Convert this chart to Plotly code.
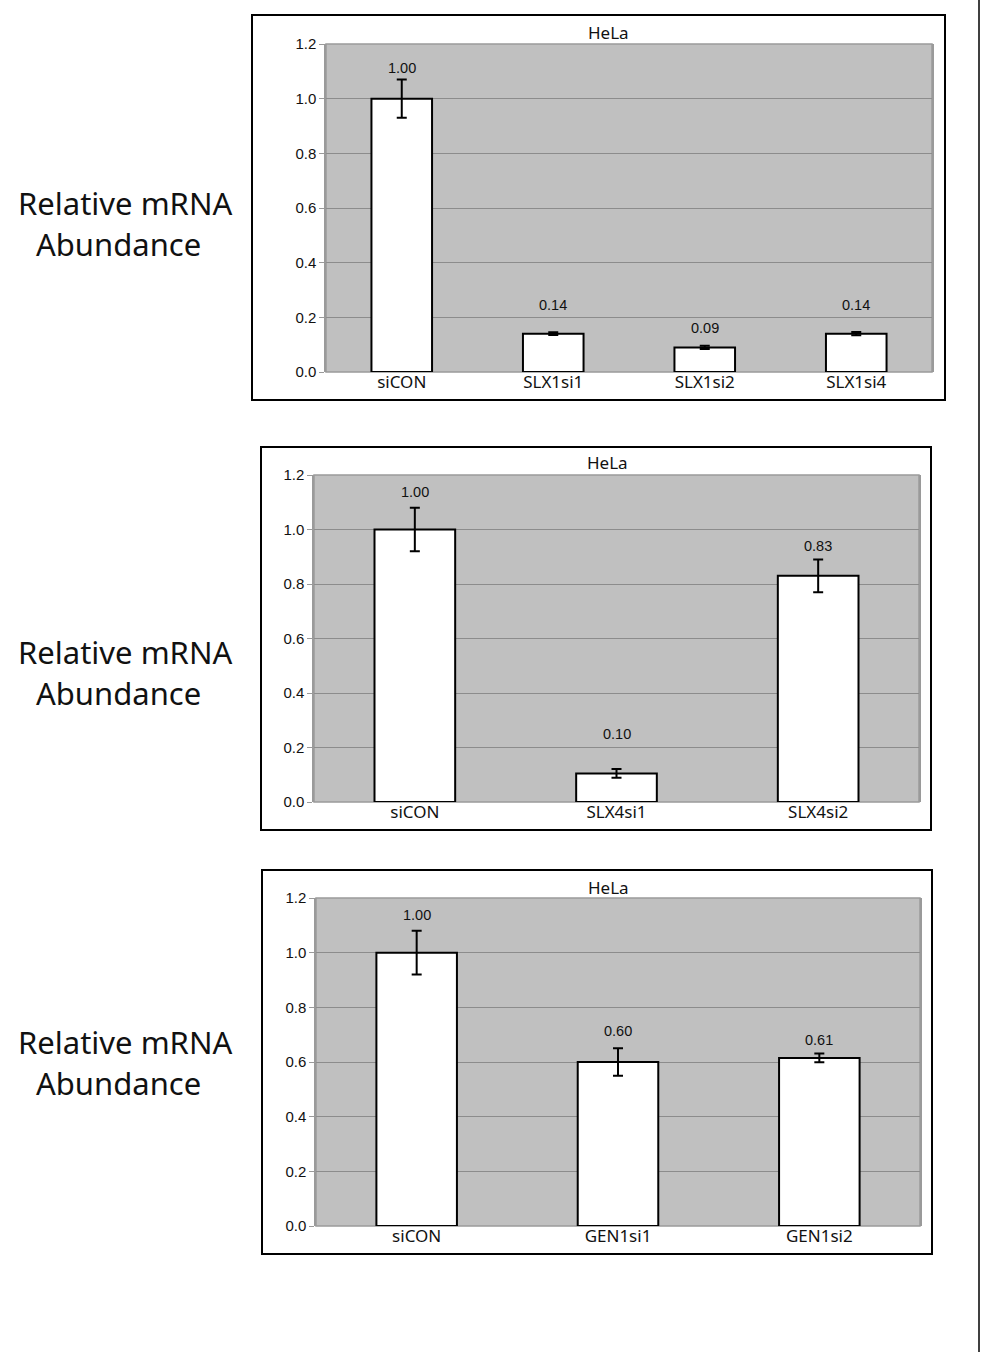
import plotly.graph_objects as go

# ---------------- data ----------------
p1_categories = ["siCON", "SLX1si1", "SLX1si2", "SLX1si4"]
p1_values = [1.00, 0.14, 0.09, 0.14]
p1_errors = [0.07, 0.005, 0.006, 0.006]
p1_labels = ["1.00", "0.14", "0.09", "0.14"]

p2_categories = ["siCON", "SLX4si1", "SLX4si2"]
p2_values = [1.00, 0.105, 0.83]
p2_errors = [0.08, 0.016, 0.06]
p2_labels = ["1.00", "0.10", "0.83"]

p3_categories = ["siCON", "GEN1si1", "GEN1si2"]
p3_values = [1.00, 0.60, 0.615]
p3_errors = [0.08, 0.05, 0.016]
p3_labels = ["1.00", "0.60", "0.61"]

panel_title = "HeLa"
y_title_line1 = "Relative mRNA"
y_title_line2 = "Abundance"
y_ticks = [0.0, 0.2, 0.4, 0.6, 0.8, 1.0, 1.2]

# ---------------- layout (pixels) ----------------
W, H = 981, 1352
panels = [
    dict(cats=p1_categories, vals=p1_values, errs=p1_errors, labels=p1_labels,
         plot=(326, 932, 44, 372), frame=(252, 945, 15, 400), title_xy=(608, 32),
         ytitle_y=(203, 244), shifts=[31, 29, 19, 29]),
    dict(cats=p2_categories, vals=p2_values, errs=p2_errors, labels=p2_labels,
         plot=(314, 919, 475, 802), frame=(261, 931, 447, 830), title_xy=(607, 462),
         ytitle_y=(652, 693), shifts=[38, 39, 30]),
    dict(cats=p3_categories, vals=p3_values, errs=p3_errors, labels=p3_labels,
         plot=(316, 920, 898, 1226), frame=(262, 932, 870, 1254), title_xy=(608, 887),
         ytitle_y=(1042, 1083), shifts=[38, 31, 18]),
]
XLABEL_LIFT = 2  # px: category labels sit closer to the plot bottom

def px(x):
    return x / W

def py(y):
    return 1 - y / H

fig = go.Figure()
annotations = []
shapes = []
layout_axes = {}

for i, p in enumerate(panels):
    n = i + 1
    xa = "x" if n == 1 else f"x{n}"
    ya = "y" if n == 1 else f"y{n}"
    x0, x1, y0, y1 = p["plot"]
    fig.add_trace(go.Bar(
        x=p["cats"], y=p["vals"], xaxis=xa, yaxis=ya,
        width=0.4,
        marker=dict(color="white", line=dict(color="black", width=2)),
        error_y=dict(type="data", array=p["errs"], visible=True,
                     color="black", thickness=2, width=5),
        showlegend=False, hoverinfo="skip",
    ))
    key = "" if n == 1 else str(n)
    layout_axes["xaxis" + key] = dict(
        domain=[px(x0), px(x1)], anchor="free", position=py(y1 - XLABEL_LIFT),
        type="category",
        showgrid=False, showline=False,
        ticks="", ticklen=0, zeroline=False, automargin=False,
        tickfont=dict(family="Noto Sans", size=17, color="#111111"),
        fixedrange=True,
    )
    layout_axes["yaxis" + key] = dict(
        domain=[py(y1), py(y0)], anchor=xa, range=[0, 1.2],
        tickvals=y_ticks, tickformat=".1f", automargin=False,
        showgrid=True, gridcolor="#8c8c8c", gridwidth=1,
        showline=True, linecolor="#9a9a9a", linewidth=1.5, mirror=True,
        ticks="outside", ticklen=5, tickcolor="#9a9a9a",
        zeroline=False,
        tickfont=dict(family="Liberation Sans", size=15, color="#111111"),
        fixedrange=True,
    )
    # plot background + border
    shapes.append(dict(type="rect", xref="paper", yref="paper",
                       x0=px(x0), x1=px(x1), y0=py(y1), y1=py(y0),
                       fillcolor="#c0c0c0", line=dict(color="#9a9a9a", width=1.5),
                       layer="below"))
    # frame
    fx0, fx1, fy0, fy1 = p["frame"]
    shapes.append(dict(type="rect", xref="paper", yref="paper",
                       x0=px(fx0), x1=px(fx1), y0=py(fy1), y1=py(fy0),
                       line=dict(color="black", width=2), fillcolor="rgba(0,0,0,0)"))
    # title
    tx, ty = p["title_xy"]
    annotations.append(dict(text=panel_title, xref="paper", yref="paper",
                            x=px(tx), y=py(ty), showarrow=False,
                            xanchor="center", yanchor="middle",
                            font=dict(family="Noto Sans", size=17, color="#111111")))
    # value labels
    for c, v, lab, s in zip(p["cats"], p["vals"], p["labels"], p["shifts"]):
        annotations.append(dict(text=lab, xref=xa, yref=ya, x=c, y=v,
                                yshift=s, showarrow=False,
                                xanchor="center", yanchor="middle",
                                font=dict(family="Liberation Sans", size=14.5, color="#111111")))
    # y titles
    yt1, yt2 = p["ytitle_y"]
    annotations.append(dict(text=y_title_line1, xref="paper", yref="paper",
                            x=px(125), y=py(yt1), showarrow=False,
                            xanchor="center", yanchor="middle",
                            font=dict(family="Noto Sans", size=31, color="#111111")))
    annotations.append(dict(text=y_title_line2, xref="paper", yref="paper",
                            x=px(118), y=py(yt2), showarrow=False,
                            xanchor="center", yanchor="middle",
                            font=dict(family="Noto Sans", size=31, color="#111111")))

# right-edge vertical line
shapes.append(dict(type="line", xref="paper", yref="paper",
                   x0=px(979), x1=px(979), y0=0, y1=1,
                   line=dict(color="black", width=1.5)))

fig.update_layout(
    width=W, height=H, margin=dict(l=0, r=0, t=0, b=0, pad=0),
    paper_bgcolor="white", plot_bgcolor="rgba(0,0,0,0)",
    annotations=annotations, shapes=shapes, bargap=0.6,
    **layout_axes,
)

fig.write_html(
    "out.html",
    config={"displayModeBar": False},
    post_script="document.body.style.margin='0';document.body.style.overflow='hidden';",
)
